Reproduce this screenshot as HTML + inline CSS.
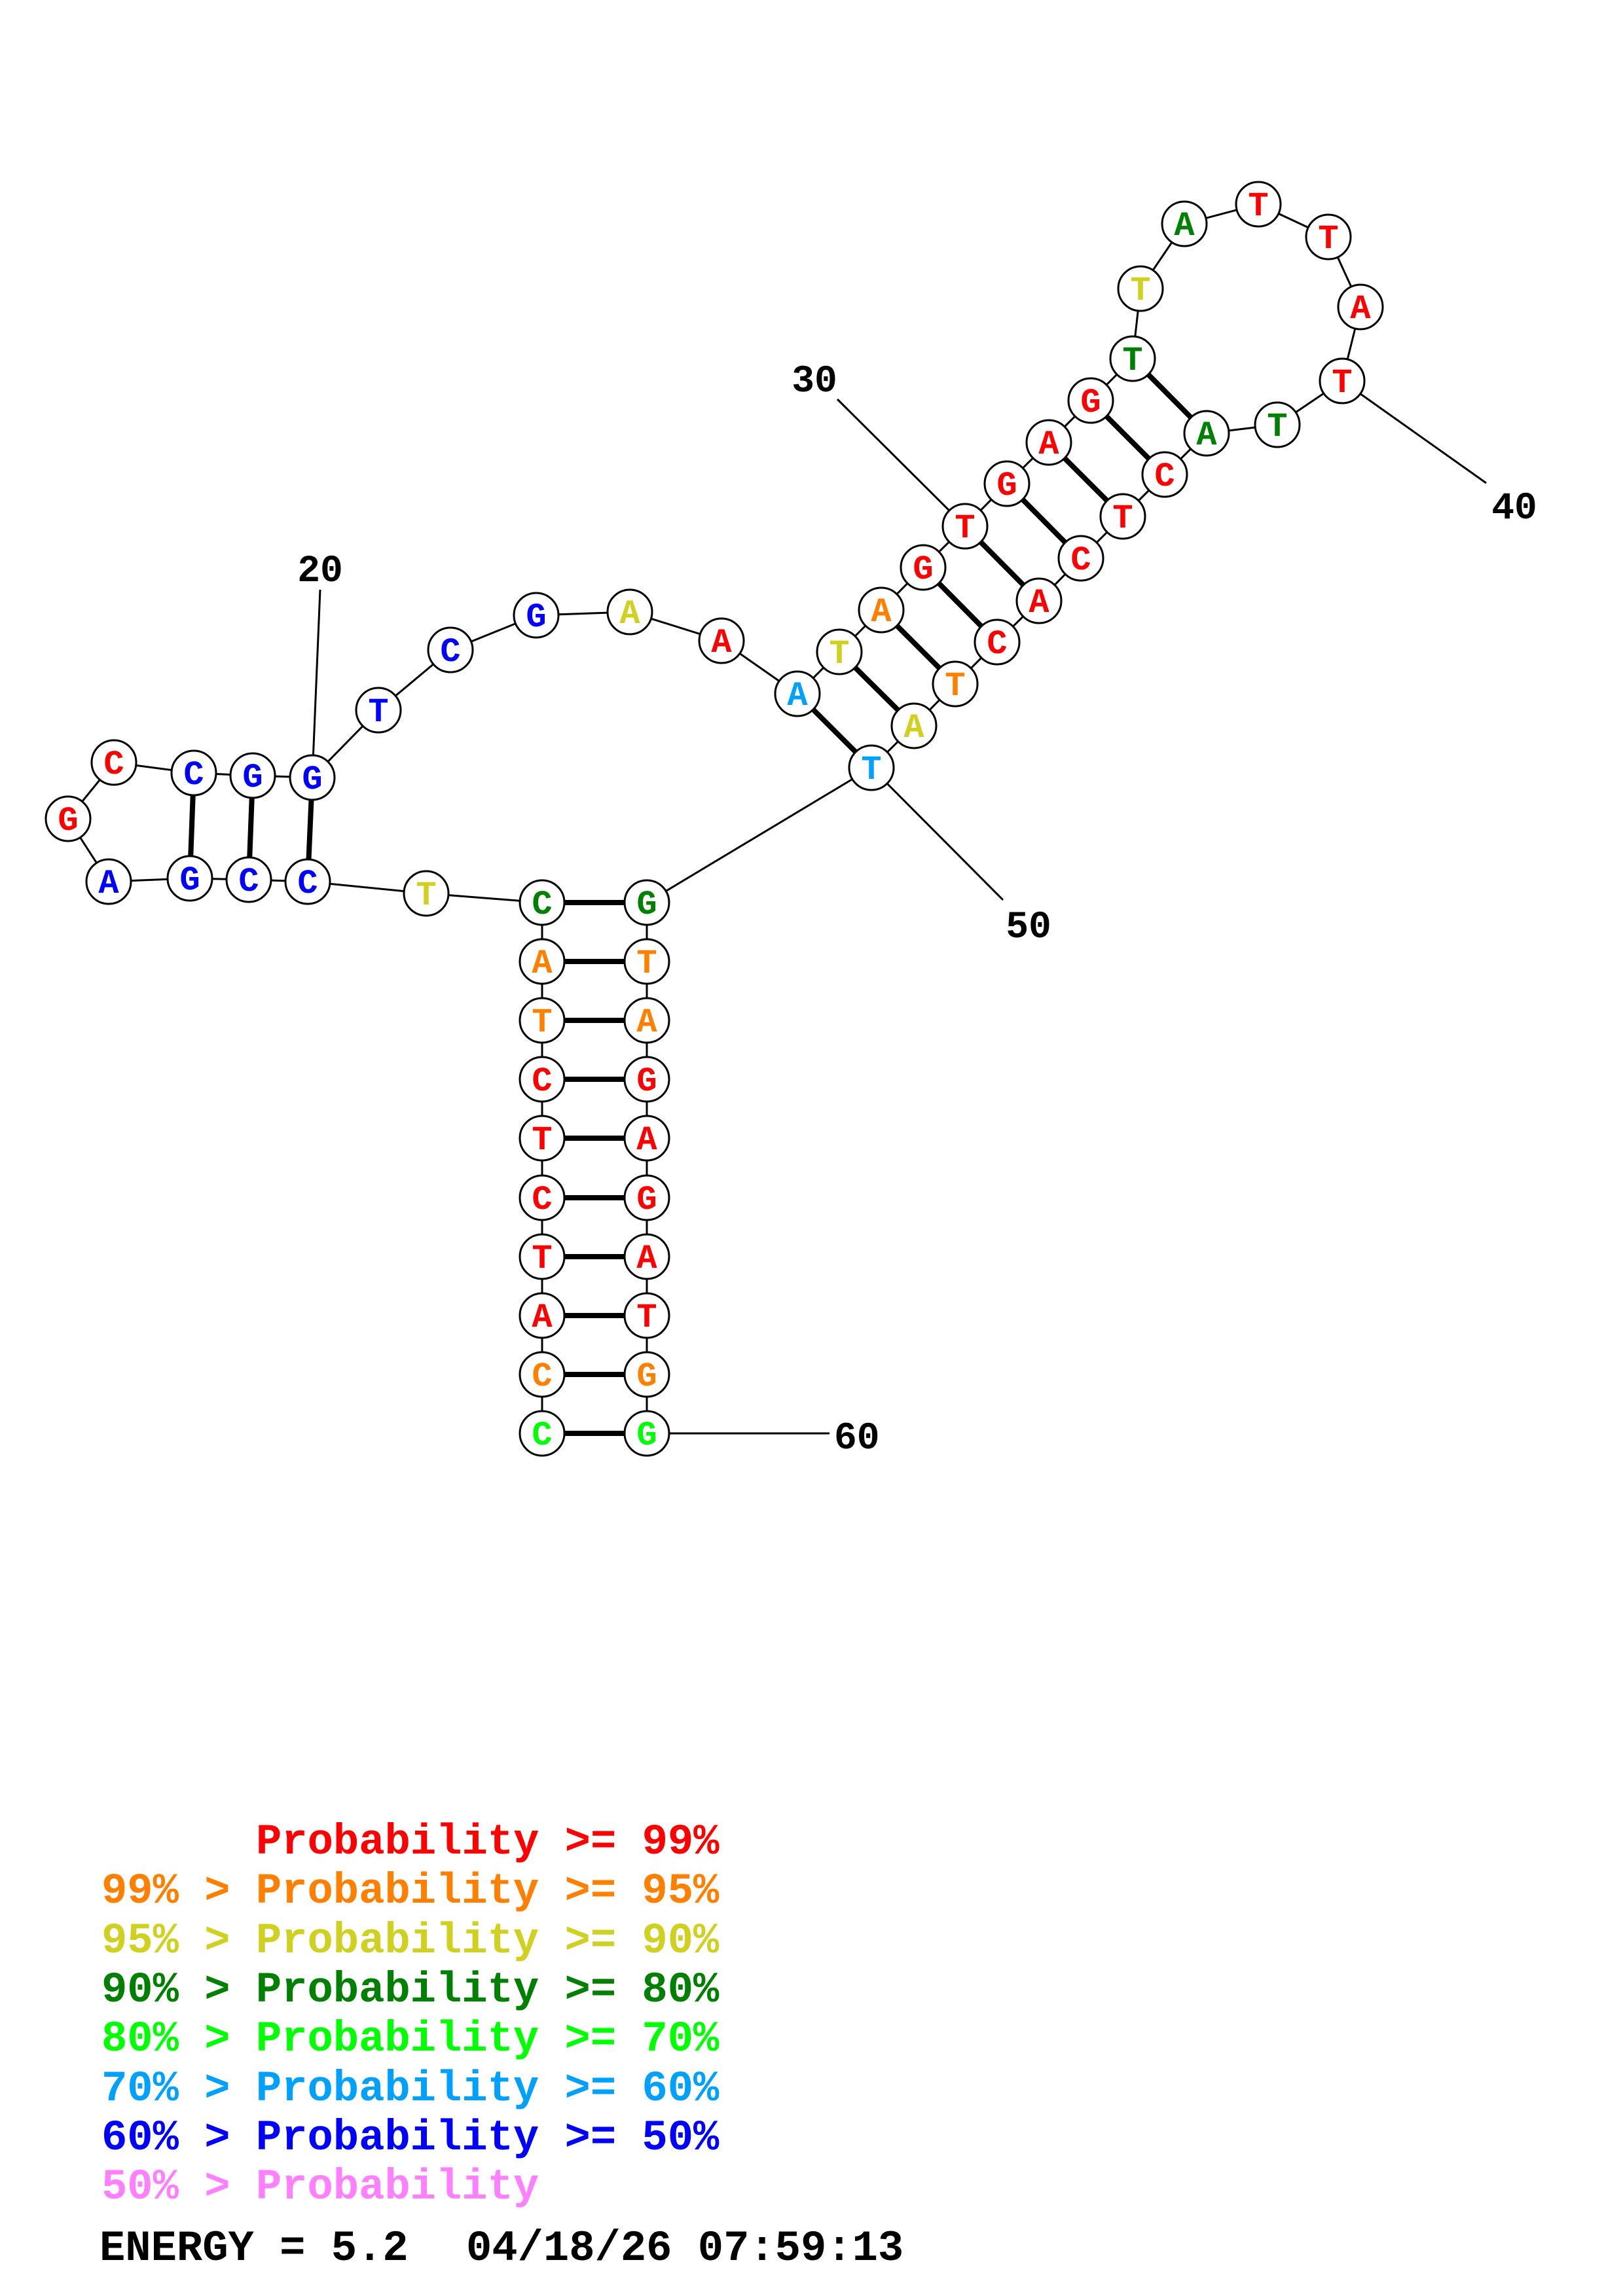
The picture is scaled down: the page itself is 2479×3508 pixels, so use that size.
<!DOCTYPE html>
<html><head><meta charset="utf-8"><style>
html,body{margin:0;padding:0;background:#fff;}
svg{display:block;}
text{font-family:"Liberation Mono",monospace;font-weight:bold;}
.n text{font-size:52px;text-anchor:middle;}
.lb{font-family:"Liberation Sans",sans-serif;font-size:58px;}
</style></head><body>
<svg width="2479" height="3508" viewBox="0 0 2479 3508" xmlns="http://www.w3.org/2000/svg">
<rect width="2479" height="3508" fill="#fff"/>
<g stroke="#000" stroke-width="3" fill="none">
<polyline points="828,2190 828,2100 828,2010 828,1920 828,1830 828,1739 828,1649 828,1559 828,1469 828,1379 651,1365 470,1347 380,1344 290,1342 166,1347 104,1251 174,1165 296,1181 386,1185 477,1188 578,1085 688,993 819,940 962,935 1102,979 1218,1060 1282,996 1346,932 1410,867 1474,804 1538,739 1602,676 1666,612 1730,548 1742,441 1809,342 1922,312 2029,362 2078,469 2050,582 1951,649 1843,662 1779,725 1715,789 1651,853 1587,918 1523,981 1459,1045 1396,1109 1331,1173 988,1379 988,1469 988,1559 988,1649 988,1739 988,1830 988,1920 988,2010 988,2100 988,2190"/>
<line x1="489" y1="901" x2="477" y2="1188"/>
<line x1="1279" y1="610" x2="1474" y2="804"/>
<line x1="2050" y1="582" x2="2270" y2="738"/>
<line x1="1331" y1="1173" x2="1532" y2="1375"/>
<line x1="988" y1="2190" x2="1267" y2="2190"/>
</g>
<g stroke="#000" stroke-width="8">
<line x1="828" y1="1379" x2="988" y2="1379"/><line x1="828" y1="1469" x2="988" y2="1469"/>
<line x1="828" y1="1559" x2="988" y2="1559"/><line x1="828" y1="1649" x2="988" y2="1649"/>
<line x1="828" y1="1739" x2="988" y2="1739"/><line x1="828" y1="1830" x2="988" y2="1830"/>
<line x1="828" y1="1920" x2="988" y2="1920"/><line x1="828" y1="2010" x2="988" y2="2010"/>
<line x1="828" y1="2100" x2="988" y2="2100"/><line x1="828" y1="2190" x2="988" y2="2190"/>
<line x1="470" y1="1347" x2="477" y2="1188"/><line x1="380" y1="1344" x2="386" y2="1185"/>
<line x1="290" y1="1342" x2="296" y2="1181"/>
<line x1="1218" y1="1060" x2="1331" y2="1173"/><line x1="1282" y1="996" x2="1396" y2="1109"/>
<line x1="1346" y1="932" x2="1459" y2="1045"/><line x1="1410" y1="867" x2="1523" y2="981"/>
<line x1="1474" y1="804" x2="1587" y2="918"/><line x1="1538" y1="739" x2="1651" y2="853"/>
<line x1="1602" y1="676" x2="1715" y2="789"/><line x1="1666" y1="612" x2="1779" y2="725"/>
<line x1="1730" y1="548" x2="1843" y2="662"/>
</g>
<g stroke="#000" stroke-width="3" fill="#fff">
<circle cx="828" cy="2190" r="34"/><circle cx="828" cy="2100" r="34"/><circle cx="828" cy="2010" r="34"/><circle cx="828" cy="1920" r="34"/><circle cx="828" cy="1830" r="34"/><circle cx="828" cy="1739" r="34"/><circle cx="828" cy="1649" r="34"/><circle cx="828" cy="1559" r="34"/><circle cx="828" cy="1469" r="34"/><circle cx="828" cy="1379" r="34"/>
<circle cx="651" cy="1365" r="34"/><circle cx="470" cy="1347" r="34"/><circle cx="380" cy="1344" r="34"/><circle cx="290" cy="1342" r="34"/><circle cx="166" cy="1347" r="34"/><circle cx="104" cy="1251" r="34"/><circle cx="174" cy="1165" r="34"/><circle cx="296" cy="1181" r="34"/><circle cx="386" cy="1185" r="34"/><circle cx="477" cy="1188" r="34"/>
<circle cx="578" cy="1085" r="34"/><circle cx="688" cy="993" r="34"/><circle cx="819" cy="940" r="34"/><circle cx="962" cy="935" r="34"/><circle cx="1102" cy="979" r="34"/><circle cx="1218" cy="1060" r="34"/><circle cx="1282" cy="996" r="34"/><circle cx="1346" cy="932" r="34"/><circle cx="1410" cy="867" r="34"/><circle cx="1474" cy="804" r="34"/>
<circle cx="1538" cy="739" r="34"/><circle cx="1602" cy="676" r="34"/><circle cx="1666" cy="612" r="34"/><circle cx="1730" cy="548" r="34"/><circle cx="1742" cy="441" r="34"/><circle cx="1809" cy="342" r="34"/><circle cx="1922" cy="312" r="34"/><circle cx="2029" cy="362" r="34"/><circle cx="2078" cy="469" r="34"/><circle cx="2050" cy="582" r="34"/>
<circle cx="1951" cy="649" r="34"/><circle cx="1843" cy="662" r="34"/><circle cx="1779" cy="725" r="34"/><circle cx="1715" cy="789" r="34"/><circle cx="1651" cy="853" r="34"/><circle cx="1587" cy="918" r="34"/><circle cx="1523" cy="981" r="34"/><circle cx="1459" cy="1045" r="34"/><circle cx="1396" cy="1109" r="34"/><circle cx="1331" cy="1173" r="34"/>
<circle cx="988" cy="1379" r="34"/><circle cx="988" cy="1469" r="34"/><circle cx="988" cy="1559" r="34"/><circle cx="988" cy="1649" r="34"/><circle cx="988" cy="1739" r="34"/><circle cx="988" cy="1830" r="34"/><circle cx="988" cy="1920" r="34"/><circle cx="988" cy="2010" r="34"/><circle cx="988" cy="2100" r="34"/><circle cx="988" cy="2190" r="34"/>
</g>
<g class="n">
<text x="828" y="2207" fill="#00ff00">C</text><text x="828" y="2117" fill="#ff8000">C</text><text x="828" y="2027" fill="#f00">A</text><text x="828" y="1937" fill="#f00">T</text><text x="828" y="1847" fill="#f00">C</text><text x="828" y="1756" fill="#f00">T</text><text x="828" y="1666" fill="#f00">C</text><text x="828" y="1576" fill="#ff8000">T</text><text x="828" y="1486" fill="#ff8000">A</text><text x="828" y="1396" fill="#008000">C</text>
<text x="651" y="1382" fill="#d0d020">T</text><text x="470" y="1364" fill="#00f">C</text><text x="380" y="1361" fill="#00f">C</text><text x="290" y="1359" fill="#00f">G</text><text x="166" y="1364" fill="#00f">A</text><text x="104" y="1268" fill="#f00">G</text><text x="174" y="1182" fill="#f00">C</text><text x="296" y="1198" fill="#00f">C</text><text x="386" y="1202" fill="#00f">G</text><text x="477" y="1205" fill="#00f">G</text>
<text x="578" y="1102" fill="#00f">T</text><text x="688" y="1010" fill="#00f">C</text><text x="819" y="957" fill="#00f">G</text><text x="962" y="952" fill="#d0d020">A</text><text x="1102" y="996" fill="#f00">A</text><text x="1218" y="1077" fill="#00a0ff">A</text><text x="1282" y="1013" fill="#d0d020">T</text><text x="1346" y="949" fill="#ff8000">A</text><text x="1410" y="884" fill="#f00">G</text><text x="1474" y="821" fill="#f00">T</text>
<text x="1538" y="756" fill="#f00">G</text><text x="1602" y="693" fill="#f00">A</text><text x="1666" y="629" fill="#f00">G</text><text x="1730" y="565" fill="#008000">T</text><text x="1742" y="458" fill="#d0d020">T</text><text x="1809" y="359" fill="#008000">A</text><text x="1922" y="329" fill="#f00">T</text><text x="2029" y="379" fill="#f00">T</text><text x="2078" y="486" fill="#f00">A</text><text x="2050" y="599" fill="#f00">T</text>
<text x="1951" y="666" fill="#008000">T</text><text x="1843" y="679" fill="#008000">A</text><text x="1779" y="742" fill="#f00">C</text><text x="1715" y="806" fill="#f00">T</text><text x="1651" y="870" fill="#f00">C</text><text x="1587" y="935" fill="#f00">A</text><text x="1523" y="998" fill="#f00">C</text><text x="1459" y="1062" fill="#ff8000">T</text><text x="1396" y="1126" fill="#d0d020">A</text><text x="1331" y="1190" fill="#00a0ff">T</text>
<text x="988" y="1396" fill="#008000">G</text><text x="988" y="1486" fill="#ff8000">T</text><text x="988" y="1576" fill="#ff8000">A</text><text x="988" y="1666" fill="#f00">G</text><text x="988" y="1756" fill="#f00">A</text><text x="988" y="1847" fill="#f00">G</text><text x="988" y="1937" fill="#f00">A</text><text x="988" y="2027" fill="#f00">T</text><text x="988" y="2117" fill="#ff8000">G</text><text x="988" y="2207" fill="#00ff00">G</text>
</g>
<g class="lb" fill="#000" font-weight="bold">
<text x="489" y="888" text-anchor="middle">20</text>
<text x="1244" y="598" text-anchor="middle">30</text>
<text x="2313" y="792" text-anchor="middle">40</text>
<text x="1571" y="1432" text-anchor="middle">50</text>
<text x="1274" y="2213">60</text>
</g>
<g font-size="65.5">
<text x="391" y="2832" fill="#f00">Probability &gt;= 99%</text>
<text x="155" y="2907" fill="#ff8000">99% &gt; Probability &gt;= 95%</text>
<text x="155" y="2983" fill="#d0d020">95% &gt; Probability &gt;= 90%</text>
<text x="155" y="3058" fill="#008000">90% &gt; Probability &gt;= 80%</text>
<text x="155" y="3133" fill="#00ff00">80% &gt; Probability &gt;= 70%</text>
<text x="155" y="3209" fill="#00a0ff">70% &gt; Probability &gt;= 60%</text>
<text x="155" y="3284" fill="#00f">60% &gt; Probability &gt;= 50%</text>
<text x="155" y="3359" fill="#ff80ff">50% &gt; Probability</text>
<text x="152" y="3453" fill="#000">ENERGY = 5.2</text>
<text x="712" y="3453" fill="#000">04/18/26 07:59:13</text>
</g>
</svg>
</body></html>
